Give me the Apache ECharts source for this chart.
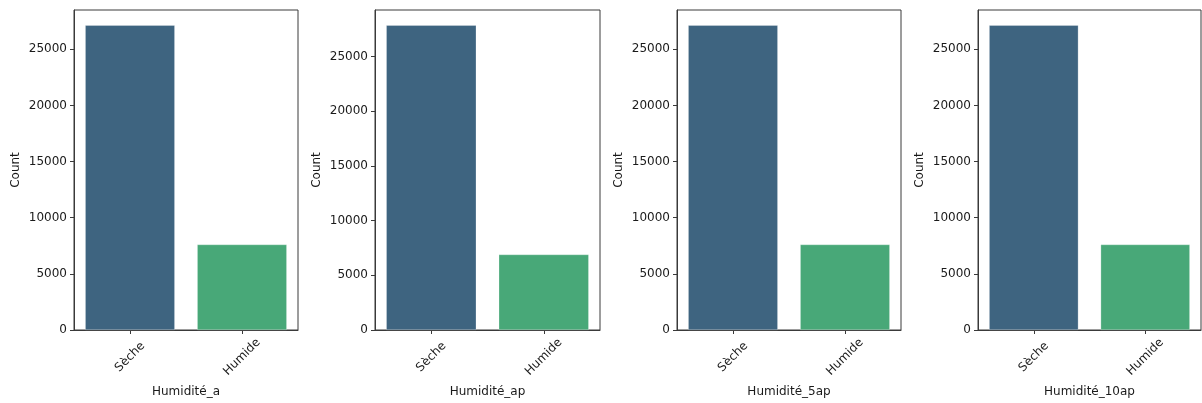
<!DOCTYPE html>
<html>
<head>
<meta charset="utf-8">
<script src="https://cdn.jsdelivr.net/npm/echarts@6/dist/echarts.min.js"></script>
<style>
html,body{margin:0;padding:0;background:#fff;}
#c{width:1202px;height:403px;}
</style>
</head>
<body>
<div id="c"></div>
<script>
const categories = ['Sèche', 'Humide'];
const panelNames = ['Humidité_a', 'Humidité_ap', 'Humidité_5ap', 'Humidité_10ap'];
const secheCounts = [27140, 27860, 27140, 27140];
const humideCounts = [7610, 6900, 7610, 7610];
const yTicks = [0, 5000, 10000, 15000, 20000, 25000];
const barColors = ['#3e6480', '#48a878'];

const grids = [
  {left: 74, width: 224},
  {left: 375, width: 225},
  {left: 677, width: 224},
  {left: 978, width: 223}
];
const font = 'DejaVu Sans';
const axisColor = '#3a3a3a';

const option = {
  animation: false,
  backgroundColor: '#fff',
  grid: grids.map(g => ({left: g.left, width: g.width, top: 10, bottom: 72, show: true, borderColor: axisColor, borderWidth: 1, containLabel: false})),
  xAxis: panelNames.map((n, i) => ({
    type: 'category', gridIndex: i, data: categories,
    name: n, nameLocation: 'middle', nameGap: 56,
    nameTextStyle: {fontFamily: font, fontSize: 12, color: '#1a1a1a'},
    axisLine: {show: true, lineStyle: {color: axisColor, width: 1}},
    axisTick: {show: true, alignWithLabel: true, length: 4, lineStyle: {color: axisColor}},
    axisLabel: {rotate: 45, align: 'center', verticalAlign: 'middle', margin: 27, fontFamily: font, fontSize: 12, color: '#1a1a1a'},
    splitLine: {show: false}
  })),
  yAxis: panelNames.map((n, i) => ({
    type: 'value', gridIndex: i, min: 0,
    max: Math.max(secheCounts[i], humideCounts[i]) * 1.05,
    interval: 5000,
    name: 'Count', nameLocation: 'middle', nameGap: 52,
    nameTextStyle: {fontFamily: font, fontSize: 12, color: '#1a1a1a'},
    axisLine: {show: true, lineStyle: {color: axisColor, width: 1}},
    axisTick: {show: true, length: 4, lineStyle: {color: axisColor}},
    axisLabel: {margin: 7, fontFamily: font, fontSize: 12, color: '#1a1a1a', showMaxLabel: false,
      formatter: v => (yTicks.indexOf(v) >= 0 ? String(v) : '')},
    splitLine: {show: false}
  })),
  series: panelNames.map((n, i) => ({
    type: 'bar', xAxisIndex: i, yAxisIndex: i,
    barWidth: '80%',
    data: [
      {value: secheCounts[i], itemStyle: {color: barColors[0]}},
      {value: humideCounts[i], itemStyle: {color: barColors[1]}}
    ],
    itemStyle: {borderColor: 'rgba(255,255,255,0.5)', borderWidth: 0.5}
  }))
};

const chart = echarts.init(document.getElementById('c'), null, {renderer: 'canvas'});
chart.setOption(option);
</script>
</body>
</html>
